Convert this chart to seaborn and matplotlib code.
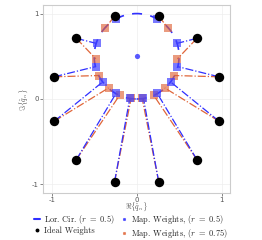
import numpy as np
import matplotlib
matplotlib.use("Agg")
import matplotlib.pyplot as plt
import seaborn as sns
from matplotlib.patches import Circle
from matplotlib.lines import Line2D

sns.set_style("white")
plt.rcParams['font.family'] = 'serif'
plt.rcParams['font.serif'] = ['cmr10', 'DejaVu Serif']
plt.rcParams['mathtext.fontset'] = 'cm'
plt.rcParams['axes.formatter.use_mathtext'] = True

# ideal weights (unit circle)
ideal_x = [-0.26, -0.71, -0.97, -0.97, -0.71, -0.26, 0.26, 0.71, 0.97, 0.97, 0.71, 0.26]
ideal_y = [0.97, 0.71, 0.26, -0.26, -0.71, -0.97, 0.97, 0.71, 0.26, -0.26, -0.71, -0.97]

# mapped weights, r = 0.5
map05_x = [-0.24, -0.47, -0.48, -0.40, -0.24, -0.08, 0.24, 0.47, 0.48, 0.40, 0.24, 0.08]
map05_y = [0.94, 0.65, 0.38, 0.20, 0.07, 0.01, 0.94, 0.65, 0.38, 0.20, 0.07, 0.01]

# mapped weights, r = 0.75
map075_x = [-0.37, -0.48, -0.44, -0.33, -0.20, -0.065, 0.37, 0.48, 0.44, 0.33, 0.20, 0.065]
map075_y = [0.83, 0.47, 0.275, 0.13, 0.045, 0.008, 0.83, 0.47, 0.275, 0.13, 0.045, 0.008]

# lorentzian circle
cir_center = (0.0, 0.5)
cir_radius = 0.5

blue = '#2f2fff'
orange = '#e0663a'

fig = plt.figure(figsize=(2.62, 2.40), dpi=100)
ax = fig.add_axes([0.165, 0.196, 0.713, 0.783])

# connecting lines
for x0, y0, x1, y1 in zip(ideal_x, ideal_y, map075_x, map075_y):
    ax.plot([x0, x1], [y0, y1], color=orange, lw=0.9, ls='-.', zorder=2)
for x0, y0, x1, y1 in zip(ideal_x, ideal_y, map05_x, map05_y):
    ax.plot([x0, x1], [y0, y1], color=blue, lw=0.9, ls='-.', zorder=3)

ax.add_patch(Circle(cir_center, cir_radius, fill=False, ec=blue, lw=1.2,
                    ls=(0, (6, 5)), zorder=3))

sns.scatterplot(x=map075_x, y=map075_y, ax=ax, marker='s', s=34, color=orange,
                alpha=0.65, linewidth=0, zorder=4)
sns.scatterplot(x=map05_x, y=map05_y, ax=ax, marker='s', s=30, color='#4040ff',
                alpha=0.7, linewidth=0, zorder=5)
sns.scatterplot(x=[cir_center[0]], y=[cir_center[1]], ax=ax, s=14, color=blue,
                alpha=0.8, linewidth=0, zorder=5)
sns.scatterplot(x=ideal_x, y=ideal_y, ax=ax, s=46, color='black', linewidth=0, zorder=6)

ax.set_xlim(-1.1, 1.1)
ax.set_ylim(-1.1, 1.1)
ax.set_xticks([-1, 0, 1])
ax.set_yticks([-1, 0, 1])
ax.set_xticklabels(['-1', '0', '1'], fontfamily='DejaVu Sans')
ax.set_yticklabels(['-1', '0', '1'], fontfamily='DejaVu Sans')
ax.tick_params(labelsize=5, colors='#555555', length=2, width=0.5, pad=1,
               direction='out', bottom=True, left=True)
ax.grid(True, color='#eeeeee', lw=0.5)
for sp in ax.spines.values():
    sp.set_color('#cccccc')
    sp.set_linewidth(0.8)
ax.set_xlabel(r'$\Re\{\hat{q}_n\}$', fontsize=5.5, color='#555555', labelpad=-1.5)
ax.set_ylabel(r'$\Im\{\hat{q}_n\}$', fontsize=5.5, color='#555555', labelpad=1)

handles = [
    Line2D([], [], color=blue, lw=1.5, ls='-'),
    Line2D([], [], color='black', marker='o', ms=1.8, ls='none'),
    Line2D([], [], color=blue, marker='s', ms=1.2, ls='none', alpha=0.7),
    Line2D([], [], color=orange, marker='s', ms=1.2, ls='none', alpha=0.7),
]
labels = [r'Lor. Cir. $(r\ =\ 0.5)$', 'Ideal Weights',
          r'Map. Weights, $(r\ =\ 0.5)$', r'Map. Weights, $(r\ =\ 0.75)$']
fig.legend(handles, labels, ncol=2, loc='lower center', bbox_to_anchor=(0.5, -0.02),
           frameon=False, fontsize=6.0, handlelength=0.7, handletextpad=0.5,
           columnspacing=0.7, labelspacing=0.1, borderpad=0.1)

fig.savefig('out.png', dpi=100)
